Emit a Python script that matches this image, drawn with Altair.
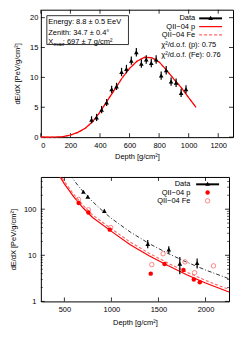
import altair as alt
import pandas as pd

FONT = "Liberation Sans"
FS = 7.5
RED = "#ff0000"
FE = "#ff6666"

# ---------------- top panel (longitudinal profile) ----------------
top_depth = [343, 377, 411, 445, 479, 512, 546, 579, 612, 646,
             680, 713, 747, 780, 814, 848, 881, 915, 949, 982]
top_val = [2.9, 3.3, 4.6, 5.8, 8.0, 8.5, 10.9, 11.4, 12.8, 14.2,
           12.3, 13.0, 12.4, 13.0, 10.3, 11.2, 9.3, 9.1, 7.4, 8.0]
top_err = [0.6, 0.6, 0.6, 0.6, 0.6, 0.6, 0.7, 0.7, 0.7, 0.7,
           0.7, 0.7, 0.7, 0.7, 0.7, 0.7, 0.7, 0.7, 0.7, 0.7]
top_curve_depth = [0, 50, 100, 150, 200, 250, 300, 350, 400, 450, 500,
                   550, 600, 650, 700, 750, 800, 850, 900, 950, 1000, 1050]
top_curve_p = [0, 0, 0.02, 0.1, 0.35, 0.8, 1.5, 2.6, 4.2, 6.1, 8.0,
               9.9, 11.5, 12.7, 13.35, 13.3, 12.6, 11.2, 9.7, 8.3, 6.6, 5.0]
top_curve_fe = [0, 0, 0.02, 0.1, 0.3, 0.75, 1.45, 2.55, 4.15, 6.1, 8.0,
                9.9, 11.5, 12.7, 13.4, 13.3, 12.6, 11.2, 9.7, 8.3, 6.6, 5.0]
top_xticks = [0, 200, 400, 600, 800, 1000, 1200]
top_yticks = [0, 5, 10, 15, 20]

# ---------------- bottom panel (log) ----------------
bot_data_depth = [702, 748, 925, 1386, 1610, 1727, 1911]
bot_data_val = [238, 186, 92, 17.7, 13.3, 6.6, 6.8]
bot_data_lo = [224, 175, 86, 14.2, 10.9, 3.9, 5.2]
bot_data_hi = [252, 198, 98, 21.5, 15.8, 9.2, 8.5]
p_pts_depth = [652, 755, 982, 1418, 1564, 1766, 1876, 1939]
p_pts_val = [136, 85, 36, 4.0, 6.5, 4.8, 3.0, 2.6]
fe_pts_depth = [649, 755, 992, 1429, 1549, 1783, 1883, 2085]
fe_pts_val = [163, 97, 40, 6.3, 10.8, 7.2, 4.2, 5.9]
data_curve_depth = [560, 600, 650, 700, 800, 900, 1000, 1200, 1400, 1600, 1800, 2000, 2250]
data_curve_val = [550, 430, 316, 240, 146, 94, 63, 32, 18, 11, 7.1, 4.8, 3.1]
p_curve_depth = [440, 500, 600, 700, 800, 1000, 1200, 1400, 1600, 1800, 2000, 2250]
p_curve_val = [560, 355, 185, 106, 66, 33, 17, 9.8, 6.0, 3.8, 2.5, 1.6]
fe_curve_depth = [450, 500, 600, 700, 800, 1000, 1200, 1400, 1600, 1800, 2000, 2250]
fe_curve_val = [585, 400, 209, 120, 75, 37.5, 19.3, 11.1, 6.8, 4.3, 2.85, 1.82]
bot_xticks = [500, 1000, 1500, 2000]
bot_ymajor = [1, 10, 100]
bot_yminor = [2, 3, 4, 5, 6, 7, 8, 9, 20, 30, 40, 50, 60, 70, 80, 90, 200, 300, 400]

W1, H1 = 193, 128
W2, H2 = 189, 125
one = pd.DataFrame({"a": [0]})

YTITLE = "dE/dX [PeV/g/cm²]"
XTITLE = "Depth [g/cm²]"


def X1(field="depth"):
    return alt.X(f"{field}:Q", scale=alt.Scale(domain=[0, 1300], nice=False, zero=False),
                 axis=alt.Axis(values=top_xticks, format="d", title=XTITLE, labelPadding=4, titlePadding=4))


def Y1(field="val"):
    return alt.Y(f"{field}:Q", scale=alt.Scale(domain=[0, 21.33], nice=False, zero=False),
                 axis=alt.Axis(values=top_yticks, title=YTITLE, labelPadding=3, titlePadding=8))


def X2(field="depth"):
    return alt.X(f"{field}:Q", scale=alt.Scale(domain=[250, 2250], nice=False, zero=False),
                 axis=alt.Axis(values=bot_xticks, format="d", title=XTITLE, labelPadding=4, titlePadding=6))


def Y2(field="val"):
    return alt.Y(f"{field}:Q", scale=alt.Scale(type="log", domain=[1, 500], nice=False),
                 axis=alt.Axis(values=bot_ymajor, format="d", title=YTITLE, labelPadding=5, titlePadding=6))


def txt(t, x, y, align="left", size=FS, color="black"):
    return alt.Chart(one).mark_text(text=t, align=align, baseline="middle", font=FONT,
                                    fontSize=size, color=color).encode(
        x=alt.value(x), y=alt.value(y))


def hline(x1, x2, y, color, width=1.0, dash=None):
    kw = dict(color=color, strokeWidth=width)
    if dash:
        kw["strokeDash"] = dash
    return alt.Chart(one).mark_rule(**kw).encode(x=alt.value(x1), x2=alt.value(x2), y=alt.value(y))


# ---------------- top chart ----------------
tx = pd.DataFrame({"depth": top_xticks})
ty = pd.DataFrame({"val": top_yticks})
t_ticks = [
    alt.Chart(tx).mark_rule(color="black", strokeWidth=0.8).encode(x=X1(), y=alt.value(H1), y2=alt.value(H1 - 4)),
    alt.Chart(tx).mark_rule(color="black", strokeWidth=0.8).encode(x=X1(), y=alt.value(0), y2=alt.value(4)),
    alt.Chart(ty).mark_rule(color="black", strokeWidth=0.8).encode(y=Y1(), x=alt.value(0), x2=alt.value(4)),
    alt.Chart(ty).mark_rule(color="black", strokeWidth=0.8).encode(y=Y1(), x=alt.value(W1), x2=alt.value(W1 - 4)),
]
tc = pd.DataFrame({"depth": top_curve_depth, "p": top_curve_p, "fe": top_curve_fe})
t_fe = alt.Chart(tc).mark_line(color=FE, strokeWidth=1.1, strokeDash=[3, 2]).encode(x=X1(), y=Y1("fe"))
t_p = alt.Chart(tc).mark_line(color=RED, strokeWidth=1.2).encode(x=X1(), y=Y1("p"))
tp = pd.DataFrame({"depth": top_depth, "val": top_val,
                   "lo": [v - e for v, e in zip(top_val, top_err)],
                   "hi": [v + e for v, e in zip(top_val, top_err)]})
t_err = alt.Chart(tp).mark_rule(color="black", strokeWidth=1.2).encode(x=X1(), y=Y1("lo"), y2="hi:Q")
t_pts = alt.Chart(tp).mark_point(shape="triangle-up", filled=True, color="black", size=22, opacity=1).encode(
    x=X1(), y=Y1())

box = alt.Chart(one).mark_rect(fill="white", stroke="black", strokeWidth=0.8).encode(
    x=alt.value(6), x2=alt.value(88), y=alt.value(6), y2=alt.value(35))
info = [
    box,
    txt("Energy: 8.8 ± 0.5 EeV", 7.5, 12.7),
    txt("Zenith: 34.7 ± 0.4°", 7.5, 23.7),
    txt("X", 7.5, 32.5),
    txt("max", 12.8, 34.5, size=5.5),
    txt(": 697 ± 7 g/cm²", 22, 32.5),
]
leg1 = [
    txt("Data", 155, 8.7, align="right"),
    hline(159, 182, 8.7, "black", 2.0),
    alt.Chart(one).mark_point(shape="triangle-up", filled=True, color="black", size=22, opacity=1).encode(
        x=alt.value(170.5), y=alt.value(8.2)),
    txt("QII−04 p", 155, 17, align="right"),
    hline(159, 182, 17, RED, 1.2),
    txt("QII−04 Fe", 155, 25.3, align="right"),
    hline(159, 182, 25.3, FE, 1.1, [3, 2]),
    txt("χ²/d.o.f. (p): 0.75", 121, 35.3),
    txt("χ²/d.o.f. (Fe): 0.76", 121, 45.3),
]
top = alt.layer(*t_ticks, t_fe, t_p, t_err, t_pts, *info, *leg1).properties(width=W1, height=H1)

# ---------------- bottom chart ----------------
bx = pd.DataFrame({"depth": bot_xticks})
bym = pd.DataFrame({"val": bot_ymajor})
byn = pd.DataFrame({"val": bot_yminor})
b_ticks = [
    alt.Chart(bx).mark_rule(color="black", strokeWidth=0.8).encode(x=X2(), y=alt.value(H2), y2=alt.value(H2 - 4)),
    alt.Chart(bx).mark_rule(color="black", strokeWidth=0.8).encode(x=X2(), y=alt.value(0), y2=alt.value(4)),
    alt.Chart(bym).mark_rule(color="black", strokeWidth=0.8).encode(y=Y2(), x=alt.value(0), x2=alt.value(4)),
    alt.Chart(bym).mark_rule(color="black", strokeWidth=0.8).encode(y=Y2(), x=alt.value(W2), x2=alt.value(W2 - 4)),
    alt.Chart(byn).mark_rule(color="black", strokeWidth=0.6).encode(y=Y2(), x=alt.value(0), x2=alt.value(2)),
    alt.Chart(byn).mark_rule(color="black", strokeWidth=0.6).encode(y=Y2(), x=alt.value(W2), x2=alt.value(W2 - 2)),
]
dc = pd.DataFrame({"depth": data_curve_depth, "val": data_curve_val})
pc = pd.DataFrame({"depth": p_curve_depth, "val": p_curve_val})
fc = pd.DataFrame({"depth": fe_curve_depth, "val": fe_curve_val})
b_dc = alt.Chart(dc).mark_line(color="black", strokeWidth=0.8, strokeDash=[4, 2, 1, 2], clip=True).encode(
    x=X2(), y=Y2())
b_fc = alt.Chart(fc).mark_line(color=FE, strokeWidth=1.1, strokeDash=[3, 2], clip=True).encode(x=X2(), y=Y2())
b_pc = alt.Chart(pc).mark_line(color=RED, strokeWidth=1.2, clip=True).encode(x=X2(), y=Y2())
bp = pd.DataFrame({"depth": p_pts_depth, "val": p_pts_val})
bf = pd.DataFrame({"depth": fe_pts_depth, "val": fe_pts_val})
bd = pd.DataFrame({"depth": bot_data_depth, "val": bot_data_val, "lo": bot_data_lo, "hi": bot_data_hi})
b_p = alt.Chart(bp).mark_point(shape="circle", filled=True, color=RED, size=20, opacity=1).encode(x=X2(), y=Y2())
b_f = alt.Chart(bf).mark_point(shape="circle", filled=False, color=FE, size=20, strokeWidth=0.8, opacity=1).encode(
    x=X2(), y=Y2())
b_err = alt.Chart(bd).mark_rule(color="black", strokeWidth=1.2).encode(x=X2(), y=Y2("lo"), y2="hi:Q")
b_d = alt.Chart(bd).mark_point(shape="triangle-up", filled=True, color="black", size=22, opacity=1).encode(
    x=X2(), y=Y2())
leg2 = [
    txt("Data", 150.3, 7.4, align="right"),
    hline(156, 179, 7.4, "black", 2.0),
    alt.Chart(one).mark_point(shape="triangle-up", filled=True, color="black", size=22, opacity=1).encode(
        x=alt.value(167.5), y=alt.value(6.9)),
    txt("QII−04 p", 150.3, 15.7, align="right"),
    alt.Chart(one).mark_point(shape="circle", filled=True, color=RED, size=20, opacity=1).encode(
        x=alt.value(167.5), y=alt.value(15.7)),
    txt("QII−04 Fe", 150.3, 24, align="right"),
    alt.Chart(one).mark_point(shape="circle", filled=False, color=FE, size=20, strokeWidth=0.8, opacity=1).encode(
        x=alt.value(167.5), y=alt.value(24)),
]
bot = alt.layer(*b_ticks, b_dc, b_fc, b_pc, b_f, b_p, b_err, b_d, *leg2).properties(width=W2, height=H2)

chart = alt.vconcat(top, bot, spacing=15).properties(padding=0, background="white").configure_view(
    stroke="black", strokeWidth=1).configure_axis(
    domain=False, ticks=False, grid=False, labelFont=FONT, labelFontSize=FS, titleFont=FONT,
    titleFontSize=FS, titleFontWeight="normal", labelColor="black", titleColor="black")

chart.save("out.html", embed_options={"renderer": "svg", "actions": False})
